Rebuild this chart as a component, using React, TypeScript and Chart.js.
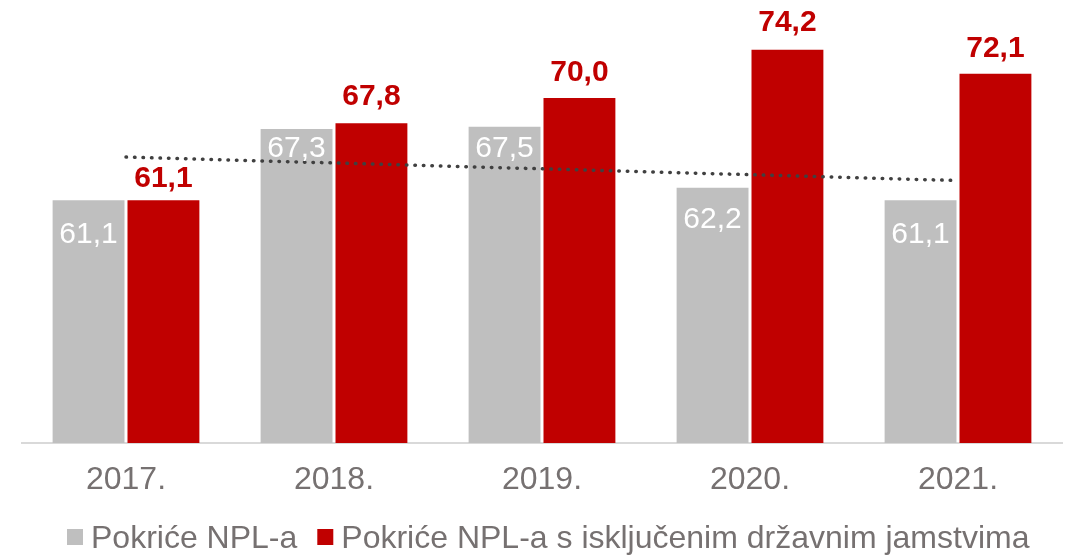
import React, { useEffect, useRef } from 'react';
import { Chart, registerables } from 'chart.js';

Chart.register(...registerables);

// ---- data ----
const categories = ['2017.', '2018.', '2019.', '2020.', '2021.'];
const coverageNPL = [61.1, 67.3, 67.5, 62.2, 61.1];
const coverageExGuarantees = [61.1, 67.8, 70.0, 74.2, 72.1];
const seriesNames = ['Pokriće NPL-a', 'Pokriće NPL-a s isključenim državnim jamstvima'];
const yMin = 40;
const yMax = 78;

// ---- style ----
const FONT = '"Liberation Sans", Arial, Helvetica, sans-serif';
const TEXT = '#767171';
const GREY = '#bfbfbf';
const RED = '#c00000';
const TREND = '#404040';
const greyLabelOffsets = [43, 28, 30, 40, 43];
const redLabelOffsets = [13, 18, 17, 19, 17];

function linearTrend(values: number[]): number[] {
  const n = values.length;
  const xs = values.map((_, i) => i + 1);
  const mx = xs.reduce((a, b) => a + b, 0) / n;
  const my = values.reduce((a, b) => a + b, 0) / n;
  let num = 0;
  let den = 0;
  for (let i = 0; i < n; i++) {
    num += (xs[i] - mx) * (values[i] - my);
    den += (xs[i] - mx) * (xs[i] - mx);
  }
  const slope = num / den;
  return xs.map((x) => my + slope * (x - mx));
}

const fmt = (v: number) => v.toFixed(1).replace('.', ',');

const labelPlugin = {
  id: 'barLabels',
  afterDatasetsDraw(chart: any) {
    const ctx = chart.ctx;
    ctx.save();
    ctx.textAlign = 'center';
    ctx.textBaseline = 'alphabetic';
    const m0 = chart.getDatasetMeta(0);
    m0.data.forEach((el: any, i: number) => {
      ctx.font = `30px ${FONT}`;
      ctx.fillStyle = '#ffffff';
      ctx.fillText(fmt(coverageNPL[i]), el.x, el.y + greyLabelOffsets[i]);
    });
    const m1 = chart.getDatasetMeta(1);
    m1.data.forEach((el: any, i: number) => {
      ctx.font = `bold 30px ${FONT}`;
      ctx.fillStyle = RED;
      ctx.fillText(fmt(coverageExGuarantees[i]), el.x, el.y - redLabelOffsets[i]);
    });
    ctx.restore();
  },
};

const legendPlugin = {
  id: 'customLegend',
  afterDraw(chart: any) {
    const ctx = chart.ctx;
    ctx.save();
    ctx.font = `32px ${FONT}`;
    ctx.textBaseline = 'alphabetic';
    ctx.textAlign = 'left';
    const colors = [GREY, RED];
    let x = 67;
    const boxTop = 529;
    const box = 16;
    const baseline = 548;
    seriesNames.forEach((name, i) => {
      ctx.fillStyle = colors[i];
      ctx.fillRect(x, boxTop, box, box);
      x += box + 8;
      ctx.fillStyle = TEXT;
      ctx.fillText(name, x, baseline);
      x += ctx.measureText(name).width + 20;
    });
    ctx.restore();
  },
};

export default function App() {
  const canvasRef = useRef<HTMLCanvasElement | null>(null);

  useEffect(() => {
    if (!canvasRef.current) return;
    Chart.defaults.font.family = FONT;
    const trend = linearTrend(coverageNPL);
    const chart = new Chart(canvasRef.current, {
      type: 'bar',
      data: {
        labels: categories,
        datasets: [
          {
            type: 'bar',
            label: seriesNames[0],
            data: coverageNPL,
            backgroundColor: GREY,
            categoryPercentage: 0.72,
            barPercentage: 0.96,
            order: 2,
          },
          {
            type: 'bar',
            label: seriesNames[1],
            data: coverageExGuarantees,
            backgroundColor: RED,
            categoryPercentage: 0.72,
            barPercentage: 0.96,
            order: 2,
          },
          {
            type: 'line',
            label: 'Linear trend',
            data: trend,
            borderColor: TREND,
            borderWidth: 3.5,
            borderDash: [0.5, 8],
            borderCapStyle: 'round',
            pointRadius: 0,
            fill: false,
            order: 0,
          } as any,
        ],
      },
      options: {
        animation: false,
        responsive: true,
        maintainAspectRatio: false,
        layout: { padding: { top: 6, left: 22, right: 4, bottom: 0 } },
        plugins: {
          legend: { display: false },
          tooltip: { enabled: false },
        },
        scales: {
          x: {
            grid: { display: false, drawTicks: false },
            border: { display: true, color: '#d9d9d9', width: 2 },
            ticks: { color: TEXT, font: { size: 32, family: FONT }, padding: 18 },
            afterFit: (scale: any) => {
              scale.height = 113;
            },
          },
          y: {
            display: false,
            min: yMin,
            max: yMax,
          },
        },
      },
      plugins: [labelPlugin, legendPlugin],
    });
    return () => chart.destroy();
  }, []);

  return (
    <div style={{ position: 'fixed', left: 0, top: 0, width: 1066, height: 556, background: '#fff' }}>
      <canvas ref={canvasRef} />
    </div>
  );
}
